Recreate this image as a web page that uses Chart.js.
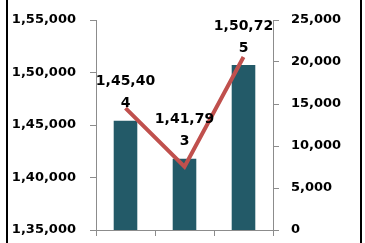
<!DOCTYPE html>
<html>
<head>
<meta charset="utf-8">
<script src="https://cdn.jsdelivr.net/npm/chart.js@4"></script>
<style>
  html, body { margin: 0; padding: 0; background: #fff; }
  #wrap { position: relative; width: 365px; height: 243px; }
  canvas { display: block; }
  #frame {
    position: absolute; left: 6px; top: 0; width: 352px; height: 243px;
    border-left: 2px solid #000; border-right: 2px solid #000;
    pointer-events: none;
  }
</style>
</head>
<body>
<div id="wrap">
  <canvas id="myChart" width="365" height="243"></canvas>
  <div id="frame"></div>
</div>
<script>
// Chart values
const categories = ["1", "2", "3"];
const barValues = [145404, 141793, 150725];
const lineValues = [14500, 7550, 20600];
const leftTicks = [135000, 140000, 145000, 150000, 155000];
const rightTicks = [0, 5000, 10000, 15000, 20000, 25000];

// Indian style grouping: 1,45,404
function inr(n) {
  const s = String(Math.round(n));
  if (s.length <= 3) return s;
  const last3 = s.slice(-3);
  const rest = s.slice(0, -3).replace(/\B(?=(\d{2})+(?!\d))/g, ",");
  return rest + "," + last3;
}

const tickFont = { family: "DejaVu Sans", size: 13, weight: "bold" };
const axisGray = "#8c8c8c";

// labels above bars, wrapped in a narrow box like the original
const barLabels = {
  id: "barLabels",
  afterDatasetsDraw(chart) {
    const ctx = chart.ctx;
    const meta = chart.getDatasetMeta(1);
    ctx.save();
    ctx.font = "bold 14px 'DejaVu Sans'";
    ctx.fillStyle = "#000";
    ctx.textAlign = "center";
    ctx.textBaseline = "middle";
    meta.data.forEach((bar, i) => {
      const text = inr(barValues[i]);
      const lines = [];
      let cur = "";
      for (const ch of text) {
        if (ctx.measureText(cur + ch).width > 62) { lines.push(cur); cur = ch; }
        else cur += ch;
      }
      lines.push(cur);
      const lh = 22;
      lines.forEach((ln, k) => {
        const y = bar.y - 17 - (lines.length - 1 - k) * lh;
        ctx.fillText(ln, bar.x, y);
      });
    });
    ctx.restore();
  }
};

// keep tick padding from pushing the plot area in
function fixY(width) {
  return (s) => {
    s.width = width;
    s.paddingTop = 8;
    s.paddingBottom = 8;
  };
}

const ctx = document.getElementById("myChart").getContext("2d");

new Chart(ctx, {
  data: {
    labels: categories,
    datasets: [
      {
        type: "line",
        data: lineValues,
        yAxisID: "y2",
        borderColor: "#c0504d",
        borderWidth: 4,
        borderJoinStyle: "miter",
        pointRadius: 0,
        tension: 0,
        order: 0,
      },
      {
        type: "bar",
        data: barValues,
        yAxisID: "y",
        backgroundColor: "#235a68",
        barPercentage: 0.4,
        categoryPercentage: 1,
        order: 1,
      },
    ],
  },
  options: {
    responsive: false,
    animation: false,
    layout: { padding: { top: 20, left: 0, right: 0, bottom: 0 } },
    plugins: { legend: { display: false }, tooltip: { enabled: false } },
    scales: {
      x: {
        offset: true,
        grid: { offset: true, drawOnChartArea: false, color: axisGray, tickLength: 6 },
        border: { color: axisGray, width: 1 },
        ticks: { display: false },
        afterFit: (s) => { s.height = 13; },
      },
      y: {
        position: "left",
        min: leftTicks[0],
        max: leftTicks[leftTicks.length - 1],
        afterBuildTicks: (s) => { s.ticks = leftTicks.map((v) => ({ value: v })); },
        grid: { drawOnChartArea: false, color: axisGray, tickLength: 6 },
        border: { color: axisGray, width: 1 },
        ticks: { color: "#000", font: tickFont, padding: 14, callback: (v) => inr(v) },
        afterFit: fixY(96),
      },
      y2: {
        position: "right",
        min: rightTicks[0],
        max: rightTicks[rightTicks.length - 1],
        afterBuildTicks: (s) => { s.ticks = rightTicks.map((v) => ({ value: v })); },
        grid: { drawOnChartArea: false, color: axisGray, tickLength: 6 },
        border: { color: axisGray, width: 1 },
        ticks: { color: "#000", font: tickFont, padding: 12, callback: (v) => inr(v) },
        afterFit: fixY(92),
      },
    },
  },
  plugins: [barLabels],
});
</script>
</body>
</html>
